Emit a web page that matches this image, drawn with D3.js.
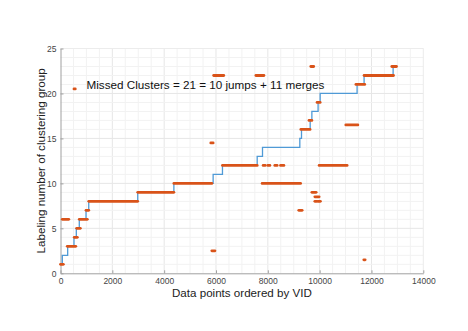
<!DOCTYPE html>
<html>
<head>
<meta charset="utf-8">
<script src="https://cdn.jsdelivr.net/npm/d3@7"></script>
<style>
  body { margin: 0; background: #fff; }
  svg text { font-family: "Liberation Sans", Arial, sans-serif; }
</style>
</head>
<body>
<div id="main"></div>
<script>

// true cluster (blue step line): points where the label changes
const trueX = [0, 70, 277, 520, 610, 725, 985, 1090, 2980, 4375, 5890, 6250, 7590, 7795, 9235, 9300, 9635, 9700, 9940, 10020, 11445, 11715, 12835, 12900];
const trueY = [1, 2, 3, 4, 5, 6, 7, 8, 9, 10, 11, 12, 13, 14, 15, 16, 17, 18, 19, 20, 21, 22, 23, 23];

// predicted labels (orange runs of points)
const predStart = [0, 70, 260, 530, 625, 725, 985, 1090, 2980, 4375, 520, 5800, 5840, 5910, 6250, 7540, 7820, 8000, 8270, 8490, 7780, 9195, 9275, 9590, 9660, 9700, 9815, 9815, 9930, 9900, 9980, 11010, 11400, 11705, 11715, 12785];
const predEnd = [110, 320, 590, 650, 765, 1035, 1090, 2980, 4375, 5840, 570, 5890, 5960, 6300, 7590, 7850, 7900, 8080, 8360, 8620, 9265, 9325, 9630, 9700, 9770, 9865, 9980, 9880, 10030, 10020, 11060, 11475, 11740, 11755, 12850, 12965];
const predLabel = [1, 6, 3, 4, 5, 6, 7, 8, 9, 10, 20.5, 14.5, 2.5, 22, 12, 22, 12, 12, 12, 12, 10, 7, 16, 17, 23, 9, 8.5, 8, 8, 19, 12, 16.5, 21, 1.5, 22, 23];

const xTicks = [0, 2000, 4000, 6000, 8000, 10000, 12000, 14000];
const yTicks = [0, 5, 10, 15, 20, 25];

const w = 468, h = 331;
const pL = 60.5, pR = 423.3, pT = 48.5, pB = 273.3;

const svg = d3.select('#main').append('svg').attr('width', w).attr('height', h);

const xScale = d3.scaleLinear().domain([0, 14000]).range([pL, pR]);
const yScale = d3.scaleLinear().domain([0, 25]).range([pB, pT]);

// grid
const grid = svg.append('g');
grid.selectAll('.xminor').data(d3.range(500, 14000, 500)).enter().append('line')
    .attr('x1', d => xScale(d)).attr('x2', d => xScale(d))
    .attr('y1', pT).attr('y2', pB)
    .attr('stroke', d => d % 2000 == 0 ? '#e6e6e6' : '#f2f2f2').attr('stroke-width', 1);
grid.selectAll('.yminor').data(d3.range(1, 26, 1)).enter().append('line')
    .attr('x1', pL).attr('x2', pR)
    .attr('y1', d => yScale(d)).attr('y2', d => yScale(d))
    .attr('stroke', d => d % 5 == 0 ? '#e6e6e6' : '#f2f2f2').attr('stroke-width', 1);
// border top/right
svg.append('line').attr('x1', pL).attr('x2', pR).attr('y1', pT).attr('y2', pT).attr('stroke', '#ececec');
svg.append('line').attr('x1', pR).attr('x2', pR).attr('y1', pT).attr('y2', pB).attr('stroke', '#ececec');

// axes
const xAxis = d3.axisBottom(xScale).tickValues(xTicks).tickFormat(d3.format('d')).tickSizeInner(-3).tickSizeOuter(0).tickPadding(5);
const yAxis = d3.axisLeft(yScale).tickValues(yTicks).tickFormat(d3.format('d')).tickSizeInner(-3).tickSizeOuter(0).tickPadding(4);

const gx = svg.append('g').attr('transform', `translate(0,${pB})`).call(xAxis);
const gy = svg.append('g').attr('transform', `translate(${pL},0)`).call(yAxis);
[gx, gy].forEach(g => {
    g.select('.domain').attr('stroke', '#a0a0a0');
    g.selectAll('.tick line').attr('stroke', '#a0a0a0');
    g.selectAll('.tick text').attr('fill', '#444').style('font-size', '8.5px');
});

// blue step line
const stepLine = d3.line()
    .x(d => xScale(d[0]))
    .y(d => yScale(d[1]))
    .curve(d3.curveStepAfter);

svg.append('path')
    .datum(trueX.map((x, i) => [x, trueY[i]]))
    .attr('d', stepLine)
    .attr('fill', 'none')
    .attr('stroke', '#4f9ad6')
    .attr('stroke-width', 1.3);

// orange predicted runs
svg.append('g').selectAll('line').data(predStart).enter().append('line')
    .attr('x1', (d, i) => xScale(predStart[i]))
    .attr('x2', (d, i) => xScale(predEnd[i]))
    .attr('y1', (d, i) => yScale(predLabel[i]))
    .attr('y2', (d, i) => yScale(predLabel[i]))
    .attr('stroke', '#d95319')
    .attr('stroke-width', 2.8)
    .attr('stroke-linecap', 'round');

// annotation
svg.append('text').text('Missed Clusters = 21 = 10 jumps + 11 merges')
    .attr('x', 86.5).attr('y', 89).attr('fill', '#111').style('font-size', '11.7px');

// axis labels
svg.append('text').text('Data points ordered by VID')
    .attr('x', (pL + pR) / 2).attr('y', 297).attr('text-anchor', 'middle')
    .attr('fill', '#222').style('font-size', '11.6px');

svg.append('text').text('Labeling number of clustering group')
    .attr('transform', `translate(45,${(pT + pB) / 2}) rotate(-90)`)
    .attr('text-anchor', 'middle').attr('fill', '#222').style('font-size', '11.6px');

</script>
</body>
</html>
